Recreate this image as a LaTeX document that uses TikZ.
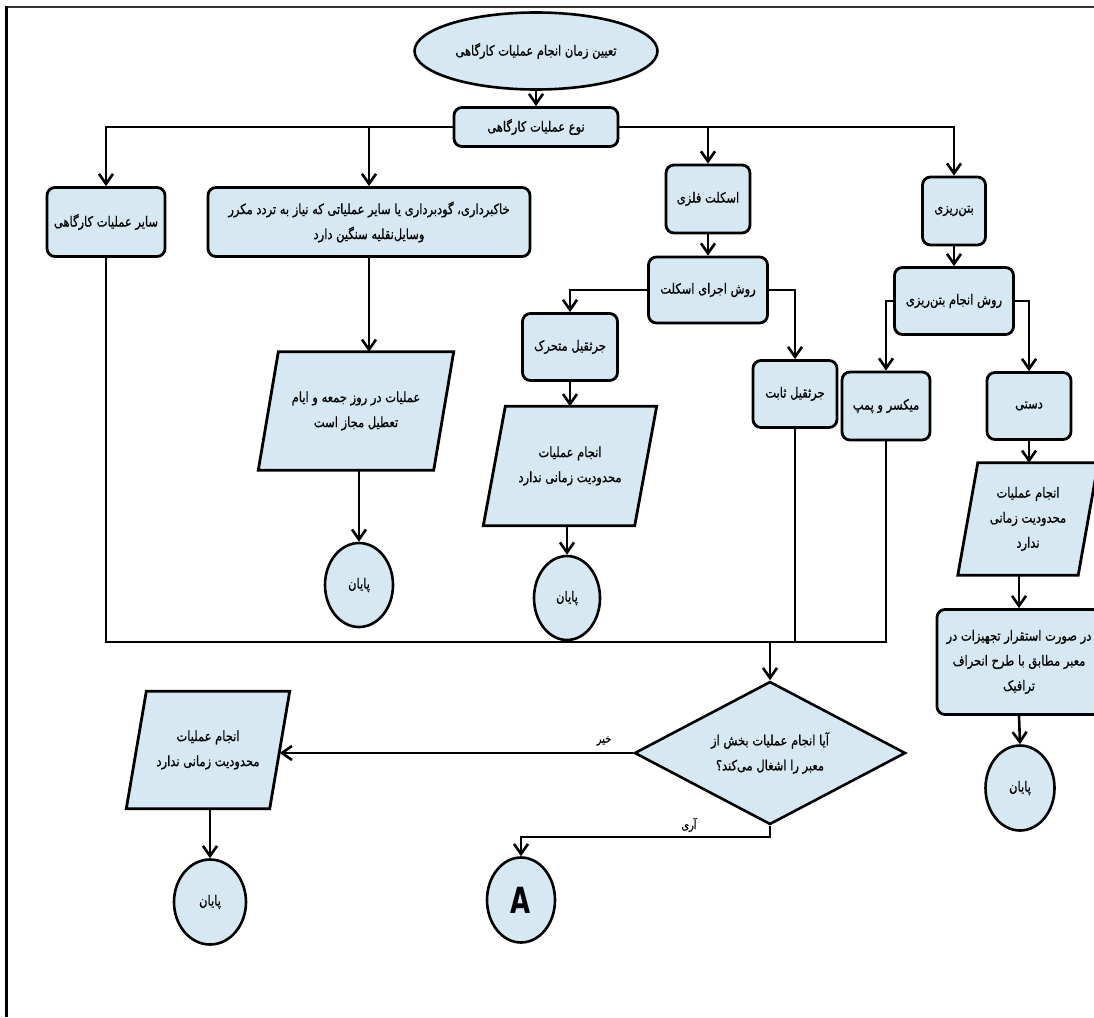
\documentclass[tikz,border=0pt]{standalone}
\usepackage{fontspec}
\usepackage{graphicx}
\usetikzlibrary{shapes.geometric,arrows.meta,backgrounds,calc}
\TeXXeTstate=1
\newfontfamily\arabicfont[Script=Arabic, FakeStretch=0.82, FakeBold=0.8]{DejaVu Sans}
\newfontfamily\latinfont{DejaVu Sans}
\newcommand\fa[1]{\beginR #1\endR}
\definecolor{boxfill}{RGB}{214,233,242}
\begin{document}
\begin{tikzpicture}[x=1pt,y=-1pt,
  every node/.style={font=\arabicfont\fontsize{14}{25}\selectfont, align=center, inner sep=0pt},
  rb/.style 2 args={draw, line width=2.8pt, fill=boxfill, rounded corners=8pt, minimum width=#1, minimum height=#2},
  pt/.style 2 args={minimum width=#1, minimum height=#2},
  pshape/.style={draw, line width=2.8pt, fill=boxfill, line join=miter},
  endc/.style 2 args={ellipse, draw, line width=2.6pt, fill=boxfill, minimum width=#1, minimum height=#2},
  arr/.style={draw, line width=2.6pt, -{Straight Barb[length=10pt,width=14pt]}},
  ln/.style={draw, line width=2.6pt},
  lab/.style={font=\arabicfont\fontsize{12}{13}\selectfont}
]
\useasboundingbox (0,0) rectangle (1094,1017);
% frame
\draw[line width=2pt, black!80] (5,7) -- (1094,7);
\draw[line width=3pt] (6,6) -- (6,1017);

% nodes
\node[endc={243pt}{77pt}] (start) at (536,51) {\fa{تعیین زمان انجام عملیات کارگاهی}};
\node[rb={164pt}{39pt}] (type) at (536,127) {\fa{نوع عملیات کارگاهی}};
\node[rb={118pt}{69pt}] (sayer) at (106,222) {\fa{سایر عملیات کارگاهی}};
\node[rb={322pt}{69pt}] (khak) at (369,222) {\fa{خاکبرداری، گودبرداری یا سایر عملیاتی که نیاز به تردد مکرر}\\\fa{وسایل‌نقلیه سنگین دارد}};
\node[rb={84pt}{68pt}] (esk) at (708,199) {\fa{اسکلت فلزی}};
\node[rb={63pt}{68pt}] (beton) at (954,211) {\fa{بتن‌ریزی}};
\node[rb={119pt}{66pt}] (resk) at (708,290) {\fa{روش اجرای اسکلت}};
\node[rb={119pt}{67pt}] (rbet) at (954,301) {\fa{روش انجام بتن‌ریزی}};
\node[rb={95pt}{67pt}] (mot) at (570,347) {\fa{جرثقیل متحرک}};
\node[rb={84pt}{67pt}] (sabet) at (795,394) {\fa{جرثقیل ثابت}};
\node[rb={88pt}{68pt}] (mixer) at (886,406) {\fa{میکسر و پمپ}};
\node[rb={84pt}{67pt}] (dasti) at (1029,406) {\fa{دستی}};
\node[pt={175pt}{118pt}] (plm) at (356,411) {\fa{عملیات در روز جمعه و ایام}\\\fa{تعطیل مجاز است}};
\node[pt={151pt}{119pt}] (pmid) at (570,466) {\fa{انجام عملیات}\\\fa{محدودیت زمانی ندارد}};
\node[pt={120pt}{112pt}] (pr) at (1028,519) {\fa{انجام عملیات}\\\fa{محدودیت زمانی}\\\fa{ندارد}};
\node[rb={164pt}{105pt}] (dar) at (1019,662) {\fa{در صورت استقرار تجهیزات در}\\\fa{معبر  مطابق با طرح انحراف}\\\fa{ترافیک}};
\node[pt={143pt}{117pt}] (pbl) at (208,750) {\fa{انجام عملیات}\\\fa{محدودیت زمانی ندارد}};
\node[endc={68pt}{84pt}] (elm) at (359,585) {\fa{پایان}};
\node[endc={66pt}{84pt}] (emid) at (567,598) {\fa{پایان}};
\node[endc={69pt}{85pt}] (er) at (1020,788) {\fa{پایان}};
\node[endc={72pt}{85pt}] (ebl) at (210,902) {\fa{پایان}};
\node[endc={68pt}{85pt}, font=\latinfont\bfseries\fontsize{36}{36}\selectfont] (ea) at (521,900) {\scalebox{0.72}[1]{A}};
\node[diamond, draw, line width=2.6pt, fill=boxfill, aspect=1.9, minimum width=271pt, minimum height=143pt, line join=miter] (dia) at (770,753) {\fa{آیا انجام عملیات بخش از}\\\fa{معبر را اشغال می‌کند؟}};
\node[lab] (nolab) at (604,741) {\fa{خیر}};
\node[lab] (yeslab) at (689,825) {\fa{آری}};

% parallelograms
\begin{scope}[on background layer]
\foreach \n/\s in {plm/20, pmid/22, pr/20, pbl/20}{
  \draw[pshape] ([xshift=\s/2]\n.north west) -- ([xshift=\s/2]\n.north east) -- ([xshift=-\s/2]\n.south east) -- ([xshift=-\s/2]\n.south west) -- cycle;
}
\end{scope}

% connectors
\draw[arr] (start.south) -- (type.north);
\draw[arr] (type.west) -| (sayer.north);
\draw[arr] (type.west) -| (khak.north);
\draw[arr] (type.east) -| (esk.north);
\draw[arr] (type.east) -| (beton.north);
\draw[arr] (esk.south) -- (resk.north);
\draw[arr] (beton.south) -- (rbet.north);
\draw[arr] (resk.west) -| (mot.north);
\draw[arr] (resk.east) -| (sabet.north);
\draw[arr] (rbet.west) -| (mixer.north);
\draw[arr] (rbet.east) -| (dasti.north);
\draw[arr] (mot.south) -- (mot.south |- pmid.north);
\draw[arr] (pmid.south -| emid.north) -- (emid.north);
\draw[arr] (khak.south) -- (khak.south |- plm.north);
\draw[arr] (plm.south -| elm.north) -- (elm.north);
\draw[arr] (dasti.south) -- (dasti.south |- pr.north);
\draw[arr] (pr.south -| dar.north) -- (dar.north);
\draw[arr] (dar.south) -- (er.north);
\coordinate (jn) at (770,642);
\draw[ln] (sayer.south) |- (jn);
\draw[ln] (mixer.south) |- (jn);
\draw[ln] (sabet.south) -- (sabet.south |- jn);
\draw[arr] (jn) -- (dia.north);
\draw[arr] (dia.west) -- (dia.west -| pbl.east);
\draw[arr] (dia.south) -- ++(0,11) -| (ea.north);
\draw[arr] (pbl.south -| ebl.north) -- (ebl.north);
\end{tikzpicture}
\end{document}
